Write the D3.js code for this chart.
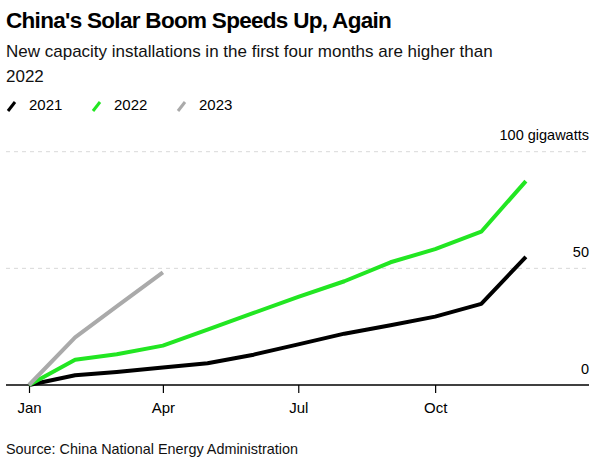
<!DOCTYPE html>
<html><head><meta charset="utf-8">
<script src="https://cdn.jsdelivr.net/npm/d3@7"></script>
<style>
body{margin:0;background:#fff;}
text{font-family:"Liberation Sans",Arial,sans-serif;}
</style></head>
<body><svg id="c" width="613" height="470"></svg>
<script>
const months = ["Jan","Feb","Mar","Apr","May","Jun","Jul","Aug","Sep","Oct","Nov","Dec"];
const tickMonths = ["Jan","Apr","Jul","Oct"];
const series2021 = [0, 4.2, 5.6, 7.5, 9.3, 13.0, 17.4, 22.0, 25.6, 29.3, 34.8, 54.9];
const series2022 = [0, 10.86, 13.21, 16.88, 23.71, 30.88, 37.73, 44.47, 52.6, 58.24, 65.71, 87.41];
const series2023 = [0, 20.37, 33.66, 48.31];
const yTicks = [0, 50, 100];
const seriesNames = ["2021","2022","2023"];
const colors = ["#000000","#22e622","#aaaaaa"];

const svg = d3.select("#c");
const toDate = i => new Date(2022, i, 1);
const x = d3.scaleTime().domain([new Date(2022,0,1), new Date(2023,0,1)]).range([29, 572]);
const y = d3.scaleLinear().domain([0,100]).range([385, 151.7]);
const left = 6, right = 589;

// title
svg.append("text").attr("x",6).attr("y",28).attr("font-size",22.5).attr("font-weight","bold")
  .attr("letter-spacing","-0.7").text("China's Solar Boom Speeds Up, Again");
svg.append("text").attr("x",6).attr("y",57).attr("font-size",17).attr("fill","#111")
  .text("New capacity installations in the first four months are higher than");
svg.append("text").attr("x",6).attr("y",82).attr("font-size",17).attr("fill","#111").text("2022");

// legend
const legX = [7, 92, 177];
seriesNames.forEach((n,i)=>{
  const g = svg.append("g");
  g.append("line").attr("x1",legX[i]+1).attr("y1",111).attr("x2",legX[i]+8).attr("y2",102)
    .attr("stroke",colors[i]).attr("stroke-width",3);
  g.append("text").attr("x",legX[i]+22).attr("y",110).attr("font-size",15).text(n);
});

// grid
svg.append("g").selectAll("line").data(yTicks.filter(d=>d>0)).join("line")
  .attr("x1",left).attr("x2",right).attr("y1",d=>y(d)).attr("y2",d=>y(d))
  .attr("stroke","#d9d9d9").attr("stroke-dasharray","4,4").attr("stroke-width",1);
svg.append("g").selectAll("text").data(yTicks).join("text")
  .attr("x",right).attr("y",d=>y(d)-11.5).attr("text-anchor","end").attr("font-size",14.5)
  .text(d=> d===100 ? "100 gigawatts" : d);

// x axis
const xAxis = d3.axisBottom(x)
  .tickValues(tickMonths.map(m=>toDate(months.indexOf(m))))
  .tickFormat(d3.timeFormat("%b")).tickSize(8).tickPadding(9);
const ax = svg.append("g").attr("transform","translate(0,385)").call(xAxis);
ax.select(".domain").remove();
ax.selectAll("text").attr("font-size",15).attr("fill","#000").attr("font-family","Liberation Sans, Arial, sans-serif");
ax.selectAll("line").attr("stroke","#000").attr("stroke-width",1.2);
svg.append("line").attr("x1",left).attr("x2",right).attr("y1",385).attr("y2",385)
  .attr("stroke","#000").attr("stroke-width",1.3);

// lines
const line = d3.line().x((d,i)=>x(toDate(i))).y(d=>y(d));
[series2021, series2022, series2023].forEach((s,i)=>{
  svg.append("path").datum(s).attr("d",line).attr("fill","none")
    .attr("stroke",colors[i]).attr("stroke-width",4).attr("stroke-linejoin","round");
});

// source
svg.append("text").attr("x",6).attr("y",454).attr("font-size",14.4).attr("fill","#111")
  .text("Source: China National Energy Administration");
</script></body></html>
